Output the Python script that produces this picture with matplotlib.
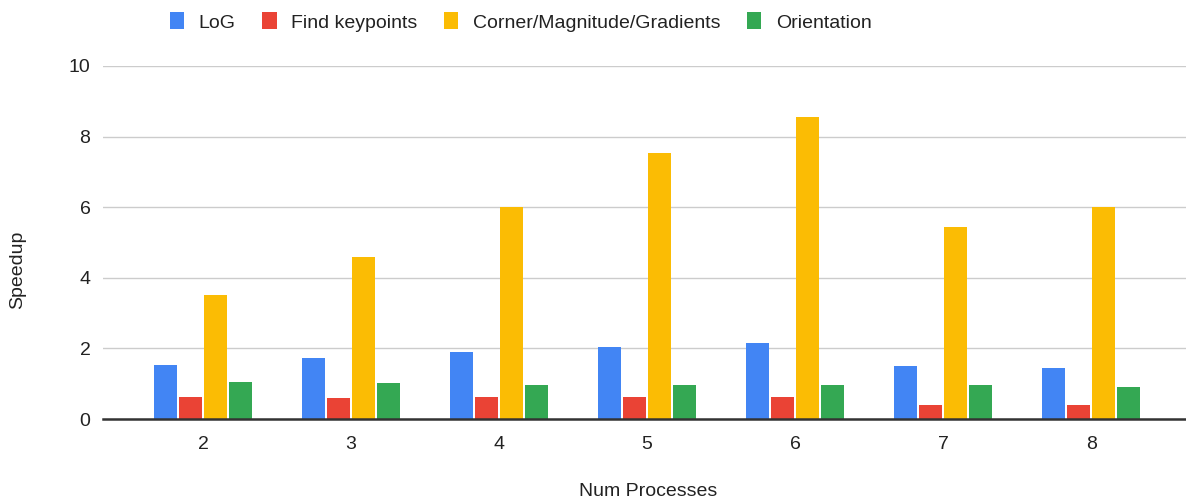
import matplotlib
matplotlib.use("Agg")
import matplotlib.pyplot as plt
import numpy as np

plt.rcParams['font.family'] = ['Liberation Sans', 'DejaVu Sans']

# Speedup per stage versus number of processes
processes = ["2", "3", "4", "5", "6", "7", "8"]
series_names = ["LoG", "Find keypoints", "Corner/Magnitude/Gradients", "Orientation"]
log_speedup = [1.53, 1.72, 1.91, 2.05, 2.15, 1.49, 1.44]
keypoint_speedup = [0.63, 0.59, 0.63, 0.63, 0.63, 0.40, 0.40]
corner_speedup = [3.52, 4.60, 6.00, 7.53, 8.55, 5.43, 6.00]
orientation_speedup = [1.06, 1.01, 0.97, 0.97, 0.97, 0.97, 0.92]
y_ticks = [0, 2, 4, 6, 8, 10]

colors = ["#4285F4", "#EA4335", "#FBBC04", "#34A853"]
all_series = [log_speedup, keypoint_speedup, corner_speedup, orientation_speedup]

FS = 14

fig = plt.figure(figsize=(11.86, 5.04), dpi=100)
ax = fig.add_axes([103 / 1186, 1 - 419 / 504, (1186 - 103) / 1186, (419 - 66) / 504])

x = np.arange(len(processes))
pitch = 0.169
width = 0.155
for i, (vals, col, name) in enumerate(zip(all_series, colors, series_names)):
    ax.bar(x + (i - 1.5) * pitch, vals, width=width, color=col, label=name,
           zorder=3, linewidth=0)

ax.set_ylim(0, 10)
ax.set_xlim(-0.676, 6.64)
ax.set_yticks(y_ticks)
ax.set_yticklabels([str(t) for t in y_ticks])
ax.set_xticks(x)
ax.set_xticklabels(processes)
ax.tick_params(axis='both', length=0, labelsize=FS, colors="#222222")
ax.tick_params(axis='y', pad=9)
ax.tick_params(axis='x', pad=12)

ax.grid(axis='y', color="#cccccc", linewidth=1, zorder=0)
for s in ["top", "right", "left"]:
    ax.spines[s].set_visible(False)
ax.spines["bottom"].set_color("#333333")
ax.spines["bottom"].set_linewidth(1.8)
ax.spines["bottom"].set_zorder(4)

fig.text(18 / 1186, 1 - 270 / 504, "Speedup", rotation=90, ha="center", va="center",
         fontsize=FS, color="#222222")
fig.text(648 / 1186, 1 - 492 / 504, "Num Processes", ha="center", va="center",
         fontsize=FS, color="#222222")

leg = fig.legend(loc="center left", bbox_to_anchor=(152 / 1186, 1 - 22 / 504), ncol=4,
                 frameon=False, fontsize=FS, handlelength=0.75, handleheight=0.95,
                 handletextpad=0.75, columnspacing=1.35)
for t in leg.get_texts():
    t.set_color("#222222")

fig.savefig("out.png", dpi=100, facecolor="white")
